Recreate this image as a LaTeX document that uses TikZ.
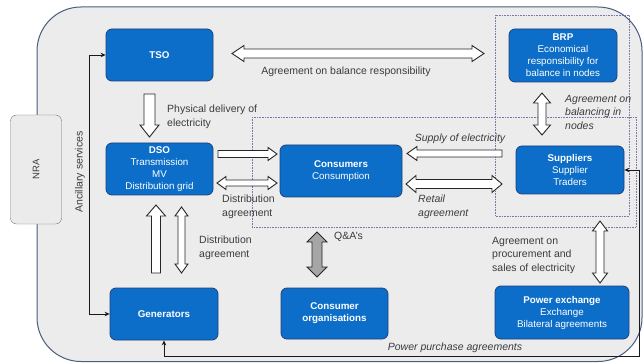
\documentclass[tikz,border=0pt]{standalone}
\usepackage{fontspec}
\setmainfont{Liberation Sans}
\usetikzlibrary{arrows.meta}
\definecolor{boxblue}{RGB}{12,110,200}
\definecolor{boxedge}{RGB}{30,65,125}
\definecolor{framefill}{RGB}{236,236,236}
\definecolor{frameedge}{RGB}{75,92,128}
\definecolor{dotc}{RGB}{120,120,170}
\definecolor{labc}{RGB}{60,60,60}
% block arrows: #1 style
\newcommand{\BArrR}[7]{\draw[#1] (#2,{#4-#5}) -- ({#3-#7},{#4-#5}) -- ({#3-#7},{#4-#6}) -- (#3,#4) -- ({#3-#7},{#4+#6}) -- ({#3-#7},{#4+#5}) -- (#2,{#4+#5}) -- cycle;}
\newcommand{\BArrL}[7]{\draw[#1] (#3,{#4-#5}) -- ({#2+#7},{#4-#5}) -- ({#2+#7},{#4-#6}) -- (#2,#4) -- ({#2+#7},{#4+#6}) -- ({#2+#7},{#4+#5}) -- (#3,{#4+#5}) -- cycle;}
\newcommand{\BArrLR}[7]{\draw[#1] (#2,#4) -- ({#2+#7},{#4-#6}) -- ({#2+#7},{#4-#5}) -- ({#3-#7},{#4-#5}) -- ({#3-#7},{#4-#6}) -- (#3,#4) -- ({#3-#7},{#4+#6}) -- ({#3-#7},{#4+#5}) -- ({#2+#7},{#4+#5}) -- ({#2+#7},{#4+#6}) -- cycle;}
\newcommand{\BArrD}[7]{\draw[#1] ({#2-#5},#3) -- ({#2-#5},{#4-#7}) -- ({#2-#6},{#4-#7}) -- (#2,#4) -- ({#2+#6},{#4-#7}) -- ({#2+#5},{#4-#7}) -- ({#2+#5},#3) -- cycle;}
\newcommand{\BArrU}[7]{\draw[#1] ({#2-#5},#4) -- ({#2-#5},{#3+#7}) -- ({#2-#6},{#3+#7}) -- (#2,#3) -- ({#2+#6},{#3+#7}) -- ({#2+#5},{#3+#7}) -- ({#2+#5},#4) -- cycle;}
\newcommand{\BArrUD}[7]{\draw[#1] (#2,#3) -- ({#2+#6},{#3+#7}) -- ({#2+#5},{#3+#7}) -- ({#2+#5},{#4-#7}) -- ({#2+#6},{#4-#7}) -- (#2,#4) -- ({#2-#6},{#4-#7}) -- ({#2-#5},{#4-#7}) -- ({#2-#5},{#3+#7}) -- ({#2-#6},{#3+#7}) -- cycle;}
\tikzset{
 bluebox/.style={draw=boxedge, fill=boxblue, line width=0.8pt, rounded corners=6pt, text=white, align=center, inner sep=0pt, font=\fontsize{9.8}{12}\selectfont},
 lab/.style={text=labc, align=left, anchor=west, inner sep=0pt, font=\fontsize{10.5}{13.5}\selectfont},
 ilab/.style={lab, font=\fontsize{10.5}{13.5}\selectfont\itshape},
 barrow/.style={draw=black!85, fill=white, line width=0.9pt, line join=miter},
 garrow/.style={barrow, fill=black!35},
 conn/.style={draw=black!90, line width=0.9pt, {Stealth[length=5pt,width=4.5pt]}-{Stealth[length=5pt,width=4.5pt]}},
 dotbox/.style={draw=dotc, densely dotted, line width=0.6pt},
}
\begin{document}
\begin{tikzpicture}[x=1pt,y=-1pt]
\useasboundingbox (0,0) rectangle (644,363);
% frame
\draw[draw=frameedge, fill=framefill, line width=1pt, rounded corners=44pt] (37,7) rectangle (642,361.5);
% NRA
\node[draw=black!55, fill=black!8, rounded corners=6pt, rotate=90, minimum width=109pt, minimum height=51pt, inner sep=0pt, text=labc, font=\fontsize{9.5}{11}\selectfont] (NRA) at (36,169.5) {NRA};
% dotted groups
\draw[dotbox] (495,15) rectangle (629,216);
\draw[dotbox] (252,117) rectangle (636,227);
% boxes
\node[bluebox, minimum width=107pt, minimum height=52pt] (TSO) at (159.5,55) {\bfseries TSO};
\node[bluebox, minimum width=107pt, minimum height=52pt] (DSO) at (159.5,169) {\bfseries DSO\\Transmission\\MV\\Distribution grid};
\node[bluebox, minimum width=108pt, minimum height=52pt] (Generators) at (164,314) {\bfseries Generators};
\node[bluebox, minimum width=122pt, minimum height=52pt] (Consumers) at (341,171) {\bfseries Consumers\\Consumption};
\node[bluebox, minimum width=107pt, minimum height=51pt] (ConsOrg) at (334.5,313.5) {\bfseries Consumer\\\bfseries organisations};
\node[bluebox, minimum width=134pt, minimum height=53pt] (PX) at (562,312.5) {\bfseries Power exchange\\Exchange\\Bilateral agreements};
\node[bluebox, minimum width=108pt, minimum height=53pt] (BRP) at (563,55.5) {\bfseries BRP\\Economical\\responsibility for\\balance in nodes};
\node[bluebox, minimum width=108pt, minimum height=48pt] (Suppliers) at (570,170) {\bfseries Suppliers\\Supplier\\Traders};
% block arrows
\BArrLR{barrow}{232}{484}{53.5}{4.5}{8}{12}
\BArrD{barrow}{149.5}{94}{137}{5.5}{9.5}{12}
\BArrR{barrow}{218}{277}{154}{3.5}{6.5}{9}
\BArrLR{barrow}{217}{277}{183}{3}{6.5}{9}
\BArrL{barrow}{407}{502}{153.5}{3.5}{7}{10}
\BArrLR{barrow}{406}{502}{184}{4.5}{8.5}{10}
\BArrUD{barrow}{542}{93}{135}{4}{8.5}{10}
\BArrU{barrow}{156}{205}{273}{4.5}{9.5}{11}
\BArrUD{barrow}{181.5}{207}{273}{3.5}{6.5}{9}
\BArrUD{garrow}{317}{232}{277}{5}{10}{10}
\BArrUD{barrow}{600}{221}{283}{4}{7.5}{10}
% connectors
\coordinate (ancB) at (89,314);
\draw[conn] (TSO.west) -| (ancB) -- (Generators.west);
\coordinate (ppaC) at (639,356);
\draw[conn] (Generators.south) |- (ppaC) |- (Suppliers.east);
% labels
\node[lab] (lPhys) at (167,117) {Physical delivery of\\electricity};
\node[lab, anchor=center] (lBal) at (346,72) {Agreement on balance responsibility};
\node[ilab, anchor=center] (lSup) at (460,139) {Supply of electricity};
\node[ilab] (lBn) at (565,112) {Agreement on\\balancing in\\nodes};
\node[lab] (lDist1) at (222,207) {Distribution\\agreement};
\node[ilab] (lRet) at (418,207) {Retail\\agreement};
\node[lab] (lDist2) at (199,248) {Distribution\\agreement};
\node[lab] (lQA) at (334,237) {Q\&A's};
\node[lab] (lProc) at (492,255) {Agreement on\\procurement and\\sales of electricity};
\node[ilab, anchor=center] (lPPA) at (455,348) {Power purchase agreements};
\node[lab, anchor=center, rotate=90] (lAnc) at (80,172) {Ancillary services};
\end{tikzpicture}
\end{document}
